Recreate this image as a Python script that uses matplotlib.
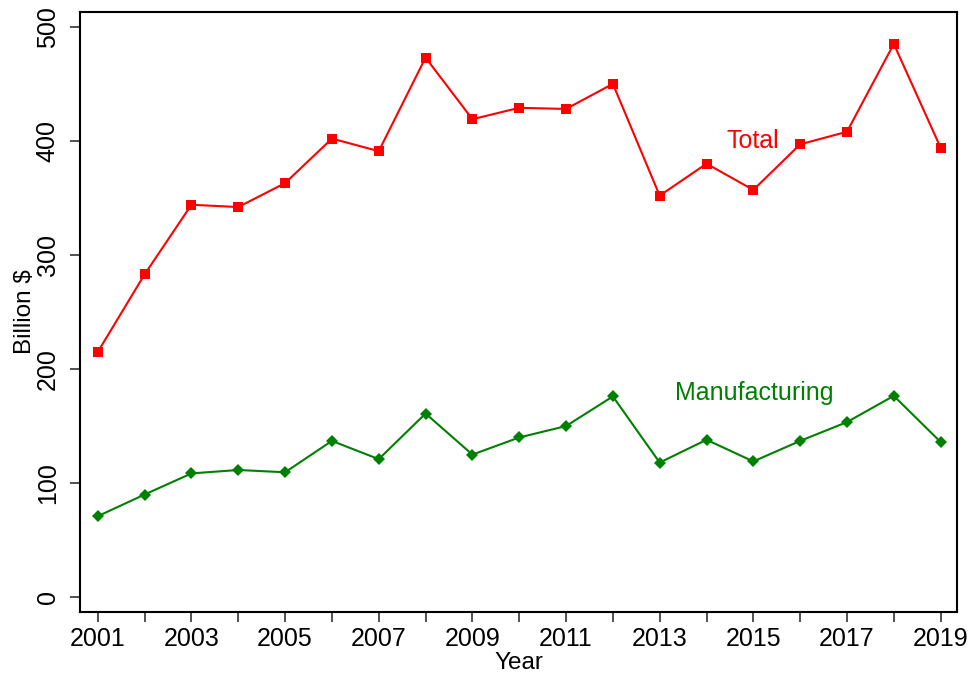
import matplotlib
matplotlib.use("Agg")
import matplotlib.pyplot as plt

plt.rcParams['font.family'] = ['Liberation Sans', 'DejaVu Sans']

years = list(range(2001, 2020))
total = [215, 283, 344, 342, 363, 402, 391, 473, 419, 429, 428, 450,
         352, 380, 357, 397, 408, 485, 394]
manufacturing = [71, 90, 108.5, 111.5, 109.5, 137, 121, 161, 125, 140, 150, 176,
                 118, 138, 119, 137, 153.5, 176.5, 136]
ytick_vals = [0, 100, 200, 300, 400, 500]
xtick_labels = [str(y) if (y % 2 == 1) else '' for y in years]

fig = plt.figure(figsize=(9.71, 6.77), dpi=100)
ax = fig.add_axes([0.0824, 0.096, 0.9032, 0.8863])

red = '#FF0000'
green = '#008000'
ax.plot(years, total, color=red, lw=1.5, marker='s', markersize=6.5, markeredgewidth=0)
ax.plot(years, manufacturing, color=green, lw=1.5, marker='D', markersize=6, markeredgewidth=0)

ax.text(2014.42, 400, 'Total', color=red, fontsize=18, ha='left', va='center')
ax.text(2013.32, 179, 'Manufacturing', color=green, fontsize=18, ha='left', va='center')

ax.set_xlim(2000.62, 2019.35)
ax.set_ylim(-13, 513)
ax.set_xticks(years)
ax.set_xticklabels(xtick_labels)
ax.set_yticks(ytick_vals)
ax.set_yticklabels([str(v) for v in ytick_vals], rotation=90, va='center')
ax.tick_params(axis='both', length=7.5, width=1.2, color='#333333', labelsize=18)
ax.tick_params(axis='x', pad=3)
ax.tick_params(axis='y', pad=7)
ax.set_xlabel('Year', fontsize=17.5, labelpad=1)
ax.set_ylabel('Billion $', fontsize=17.5, labelpad=0)
for s in ax.spines.values():
    s.set_linewidth(1.5)
    s.set_color('black')

fig.savefig('out.png', dpi=100)
